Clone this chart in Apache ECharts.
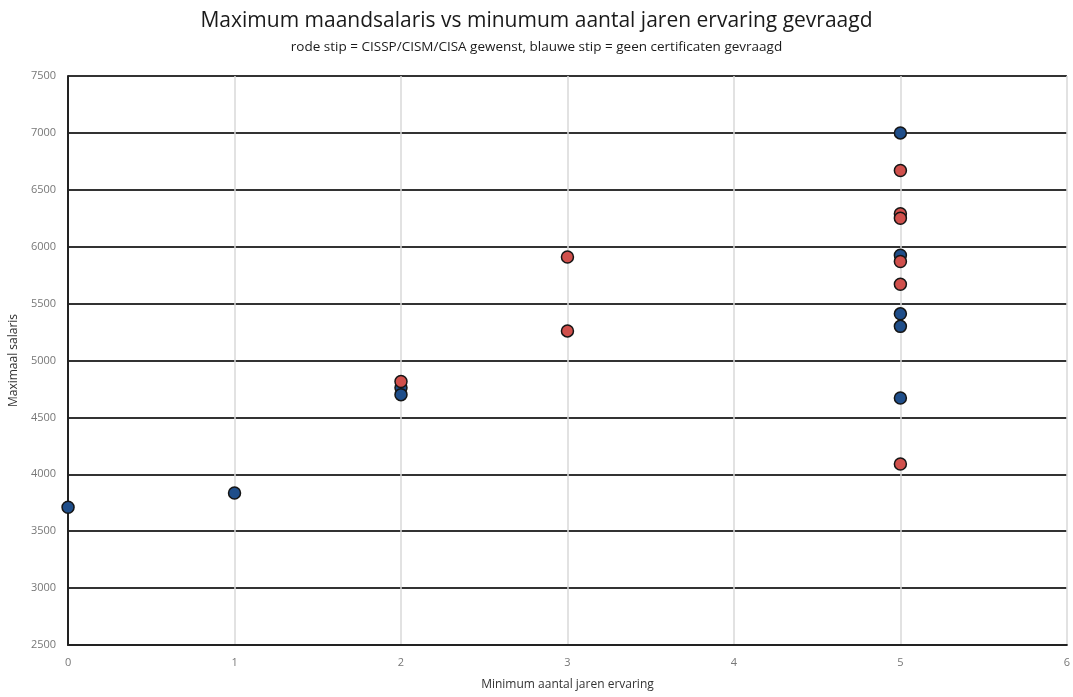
<!DOCTYPE html>
<html>
<head>
<meta charset="utf-8">
<script src="https://cdn.jsdelivr.net/npm/echarts@6/dist/echarts.min.js"></script>
<style>
  html, body { margin: 0; padding: 0; background: #fff; }
  #chart { width: 1073px; height: 697px; }
</style>
</head>
<body>
<div id="chart"></div>
<script>
// geen certificaten gevraagd (blauw)
let blueJaren = [0, 1, 2, 2, 5, 5, 5, 5, 5];
let blueSalaris = [3710, 3835, 4760, 4700, 7000, 5925, 5410, 5300, 4670];

// CISSP/CISM/CISA gewenst (rood)
let redJaren = [2, 3, 3, 5, 5, 5, 5, 5, 5];
let redSalaris = [4815, 5910, 5260, 6670, 6290, 6250, 5870, 5670, 4090];

let toPoints = (xs, ys) => xs.map((x, i) => [x, ys[i]]);

let font = '"Open Sans", "Noto Sans", sans-serif';

let option = {
    backgroundColor: '#fff',
    animation: false,
    title: [
        {
            text: 'Maximum maandsalaris vs minumum aantal jaren ervaring gevraagd',
            left: 'center',
            top: 6,
            textStyle: { fontFamily: font, fontSize: 21, fontWeight: 'normal', color: '#1a1a1a' }
        },
        {
            text: 'rode stip = CISSP/CISM/CISA gewenst, blauwe stip = geen certificaten gevraagd',
            left: 'center',
            top: 35,
            textStyle: { fontFamily: font, fontSize: 13.5, fontWeight: 'normal', color: '#1a1a1a' }
        }
    ],
    grid: { left: 68, right: 3, top: 76, bottom: 52 },
    xAxis: {
        type: 'value',
        min: 0,
        max: 6,
        interval: 1,
        name: 'Minimum aantal jaren ervaring',
        nameLocation: 'middle',
        nameGap: 34,
        nameTextStyle: { fontFamily: font, fontSize: 12, color: '#333' },
        axisLine: { show: true, onZero: false, lineStyle: { color: '#222', width: 2 } },
        axisTick: { show: false },
        axisLabel: { fontFamily: font, fontSize: 11, color: '#777', margin: 12 },
        splitLine: { show: true, lineStyle: { color: '#d9d9d9', width: 1.5 } }
    },
    yAxis: {
        type: 'value',
        min: 2500,
        max: 7500,
        interval: 500,
        name: 'Maximaal salaris',
        nameLocation: 'middle',
        nameGap: 47,
        nameTextStyle: { fontFamily: font, fontSize: 12, color: '#333' },
        axisLine: { show: true, onZero: false, lineStyle: { color: '#222', width: 2 } },
        axisTick: { show: false },
        axisLabel: { fontFamily: font, fontSize: 11, color: '#777', margin: 12, formatter: v => String(v) },
        splitLine: { show: true, lineStyle: { color: '#333', width: 2 } }
    },
    series: [
        {
            name: 'geen certificaten gevraagd',
            type: 'scatter',
            symbolSize: 12,
            data: toPoints(blueJaren, blueSalaris),
            itemStyle: { color: '#1f4e8a', borderColor: '#151515', borderWidth: 1.5, opacity: 1 }
        },
        {
            name: 'CISSP/CISM/CISA gewenst',
            type: 'scatter',
            symbolSize: 12,
            data: toPoints(redJaren, redSalaris),
            itemStyle: { color: '#d0504c', borderColor: '#151515', borderWidth: 1.5, opacity: 1 }
        }
    ]
};

let chart = echarts.init(document.getElementById('chart'));
chart.setOption(option);
</script>
</body>
</html>
